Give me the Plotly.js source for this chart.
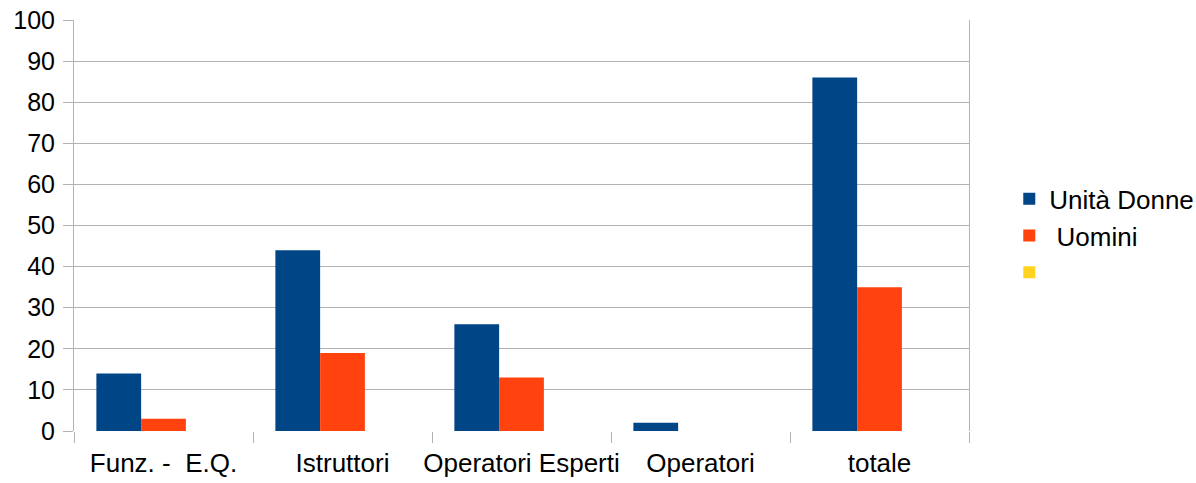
<!DOCTYPE html>
<html>
<head>
<meta charset="utf-8">
<script src="https://cdn.plot.ly/plotly-3.0.1.min.js"></script>
<style>html,body{margin:0;padding:0;background:#fff;}#chart{width:1196px;height:483px;}</style>
</head>
<body>
<div id="chart"></div>
<script>
const categories = ["Funz. -\u00a0 E.Q.", "Istruttori", "Operatori Esperti", "Operatori", "totale"];
const donne = [14, 44, 26, 2, 86];
const uomini = [3, 19, 13, 0, 35];
const terza = [null, null, null, null, null];
const seriesNames = ["Unità Donne", "\u00a0Uomini", "\u00a0"];
const colors = ["#004586", "#ff420e", "#ffd320"];
const yTicks = [0, 10, 20, 30, 40, 50, 60, 70, 80, 90, 100];

const fam = "Liberation Sans, Arial, sans-serif";
const font = {family: fam, size: 26, color: "#000"};
const yfont = {family: fam, size: 25, color: "#000"};
const traces = [donne, uomini, terza].map((v, i) => ({
  type: "bar", x: categories, y: v, name: seriesNames[i], legendgroup: "g" + i,
  marker: {color: colors[i]}, hoverinfo: "none"
}));

const layout = {
  width: 1196, height: 483,
  margin: {l: 74, r: 227, t: 20, b: 52, autoexpand: false},
  paper_bgcolor: "#fff", plot_bgcolor: "#fff",
  barmode: "group", bargap: 0.25, bargroupgap: 0,
  font: font,
  showlegend: true,
  legend: {x: 1.045, xanchor: "left", y: 0.475, yanchor: "middle", font: font, traceorder: "normal",
           tracegroupgap: 6, itemclick: false},
  xaxis: {
    type: "category", tickson: "boundaries", ticks: "outside", ticklen: 11, tickcolor: "#b3b3b3",
    showline: false, showgrid: false, tickangle: 0,
    tickfont: font, ticklabelstandoff: 14, zeroline: false
  },
  yaxis: {
    range: [0, 100], tickvals: yTicks, ticktext: yTicks.map(String),
    ticks: "outside", ticklen: 10, tickcolor: "#b3b3b3",
    showline: true, linecolor: "#b3b3b3", linewidth: 1, mirror: true,
    showgrid: true, gridcolor: "#b3b3b3", gridwidth: 1, zeroline: false,
    tickfont: yfont, ticklabelstandoff: 3
  }
};
Plotly.newPlot("chart", traces, layout, {staticPlot: true});
</script>
</body>
</html>
